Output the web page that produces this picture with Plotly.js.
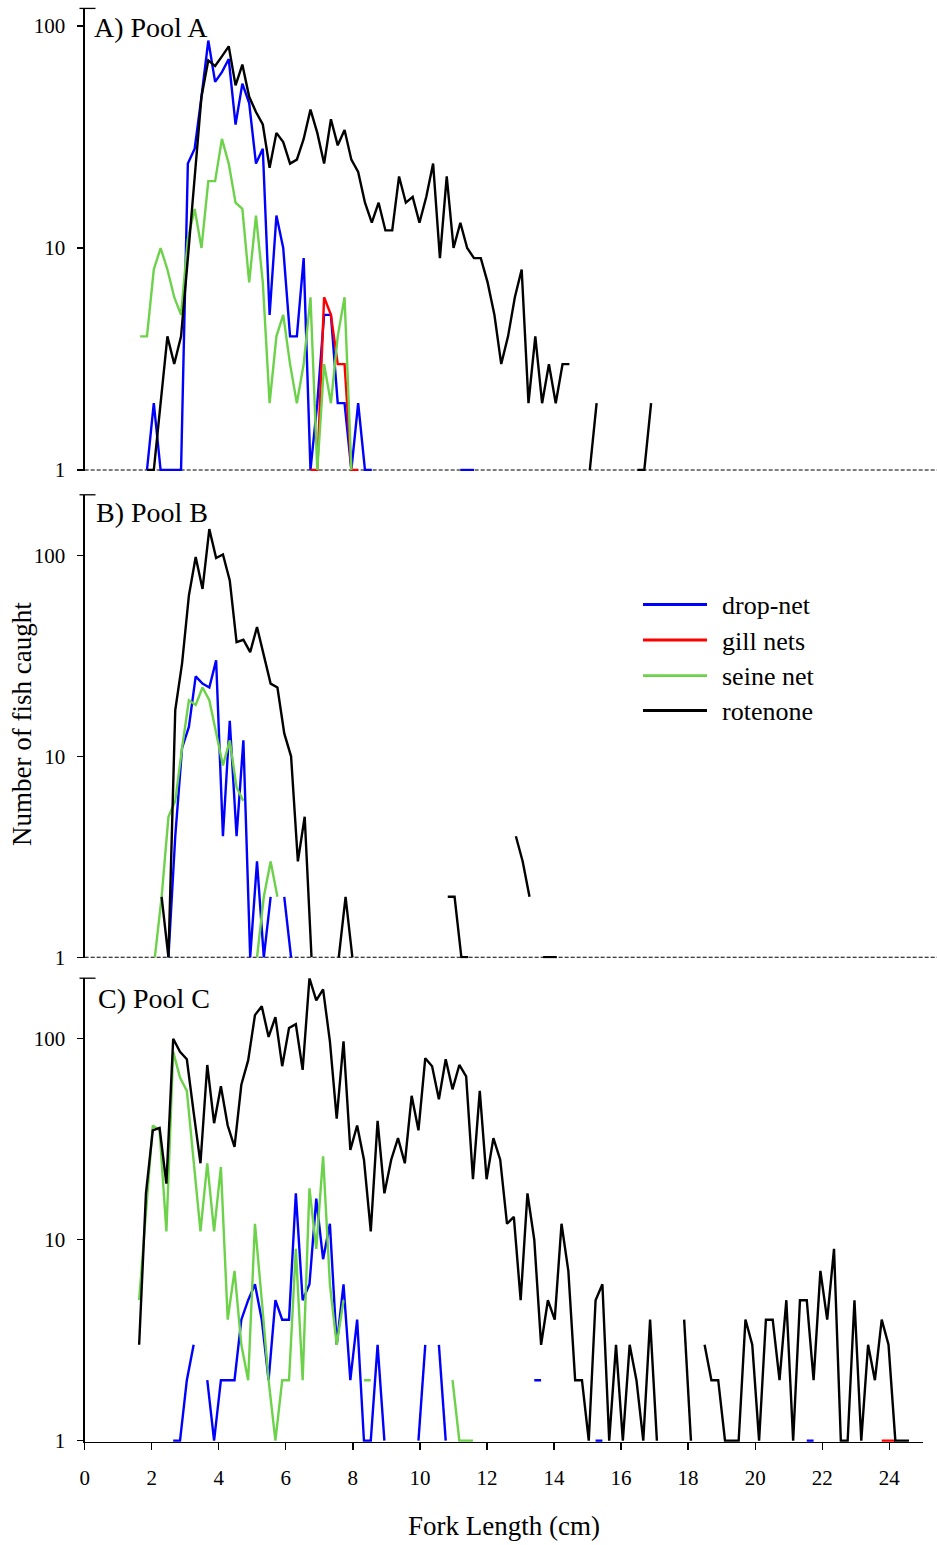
<!DOCTYPE html>
<html>
<head>
<meta charset="utf-8">
<script src="https://cdn.plot.ly/plotly-3.0.1.min.js"></script>
<style>
html,body{margin:0;padding:0;background:#ffffff;}
#chart{width:937px;height:1545px;}
</style>
</head>
<body>
<div id="chart"></div>
<script>
// ---------------- DATA ----------------
// Fork-length classes: bin index * BIN_WIDTH_CM gives the class position on the x axis (cm)
const BIN_WIDTH_CM = 0.2032;

const seriesNames  = ['drop-net', 'gill nets', 'seine net', 'rotenone'];
const seriesColors = ['#0000ff', '#ff0000', '#6cd24a', '#000000'];
const panelLabels  = ['A) Pool A', 'B) Pool B', 'C) Pool C'];
const xTickValues  = [0, 2, 4, 6, 8, 10, 12, 14, 16, 18, 20, 22, 24];
const yTickValues  = [1, 10, 100];
const yTickLabels  = ['1', '10', '100'];
const xTitle = 'Fork Length (cm)';
const yTitle = 'Number of fish caught';

// Pool A  (null = no fish caught in that class)
const poolA_binShift = 0.15;
const poolA_dropNet_firstBin = 9;
const poolA_dropNet = [1,2,1,1,1,1,24,28,48,86,56,62,
  71,36,55,45,24,28,5,14,10,4,
  4,9,1,2,5,5,2,2,1,2,
  1,1,null,null,null,null,null,null,null,null,
  null,null,null,null,1,1,1];
const poolA_gillNets_firstBin = 33;
const poolA_gillNets = [1,1,6,5,3,3,1,1];
const poolA_seineNet_firstBin = 8;
const poolA_seineNet = [4,4,8,10,8,6,5,11,15,10,20,20,31,
  24,16,15,7,14,7,2,4,5,3,
  2,3,6,1,3,2,4,6,1];
const poolA_rotenone_firstBin = 9;
const poolA_rotenone = [1,1,2,4,3,4,9,20,48,70,66,73,
  81,54,67,48,41,36,23,33,30,24,
  25,31,42,33,24,38,29,34,25,22,
  16,13,16,12,12,21,16,17,13,17,
  24,9,21,10,13,10,9,9,7,5,
  3,4,6,8,2,4,2,3,2,3,
  3,null,null,1,2,null,null,null,null,null,
  1,1,2];

// Pool B
const poolB_binShift = 0.3;
const poolB_dropNet_firstBin = 12;
const poolB_dropNet = [1,4,11,14,25,23,22,30,4,
  15,4,12,1,3,1,2,null,2,1];
const poolB_gillNets_firstBin = 0;
const poolB_gillNets = [];
const poolB_seineNet_firstBin = 10;
const poolB_seineNet = [1,2,5,6,11,19,18,22,19,13,9,
  12,7,6,null,1,2,3,2];
const poolB_rotenone_firstBin = 11;
const poolB_rotenone = [2,1,17,29,63,98,68,135,97,101,
  75,37,38,33,44,32,23,22,13,10,
  3,5,1,null,null,null,1,2,1,null,
  null,null,null,null,null,null,null,null,null,null,
  null,null,2,2,1,1,null,null,null,null,
  null,null,4,3,2,null,1,1,1];

// Pool C
const poolC_binShift = 0;
const poolC_dropNet_firstBin = 13;
const poolC_dropNet = [1,1,2,3,null,2,1,2,
  2,2,4,5,6,4,2,5,4,4,
  17,5,6,16,8,12,3,6,2,4,
  1,1,3,1,null,null,null,null,1,3,
  null,3,1,null,null,null,null,null,null,null,
  null,null,null,null,null,2,2,null,null,null,
  null,null,null,null,1,1,null,null,null,null,
  null,null,null,null,null,null,null,null,null,null,
  null,null,null,null,null,null,null,null,null,null,
  null,null,null,null,null,1,1];
const poolC_gillNets_firstBin = 117;
const poolC_gillNets = [1,1,1];
const poolC_seineNet_firstBin = 8;
const poolC_seineNet = [5,14,37,
  35,11,86,64,55,24,11,24,11,23,
  4,7,3,2,12,5,2,1,2,2,
  9,2,18,9,26,6,3,5,null,null,
  2,2,null,null,null,null,null,null,null,null,
  null,null,null,2,1,1,1];
const poolC_rotenone_firstBin = 8;
const poolC_rotenone = [3,17,35,
  36,19,100,86,79,43,24,74,38,58,
  37,29,59,78,131,145,102,128,73,113,
  118,70,200,155,176,97,40,97,28,37,
  25,11,39,17,25,32,24,52,35,80,
  73,50,79,56,74,65,20,55,20,32,
  25,12,13,5,17,10,3,5,4,12,
  7,2,2,1,5,6,1,3,1,3,
  2,1,4,1,null,null,null,4,1,null,
  3,2,2,1,1,1,4,3,1,4,
  4,2,5,1,5,5,2,7,4,9,
  1,1,5,1,3,2,4,3,1,1,1];

// ---------------- LAYOUT CONSTANTS ----------------
const W = 937, H = 1545;
const FONT = 'Liberation Serif, Times New Roman, serif';
const X0_PX = 84.65, XEND_PX = 922.8, X_RANGE = [0, 25];
// panel geometry: pixel row of y=1, pixels per decade, top value
const panels = [
  {y1px: 470.0,  decade: 222, top: 120, shift: poolA_binShift,
   series: [[poolA_dropNet_firstBin, poolA_dropNet],[poolA_gillNets_firstBin, poolA_gillNets],[poolA_seineNet_firstBin, poolA_seineNet],[poolA_rotenone_firstBin, poolA_rotenone]],
   label: {x: 92, y: 27}, dashed: true},
  {y1px: 957.3,  decade: 201, top: 200, shift: poolB_binShift,
   series: [[poolB_dropNet_firstBin, poolB_dropNet],[poolB_gillNets_firstBin, poolB_gillNets],[poolB_seineNet_firstBin, poolB_seineNet],[poolB_rotenone_firstBin, poolB_rotenone]],
   label: {x: 94, y: 512.5}, dashed: true},
  {y1px: 1440.7, decade: 201, top: 200, shift: poolC_binShift,
   series: [[poolC_dropNet_firstBin, poolC_dropNet],[poolC_gillNets_firstBin, poolC_gillNets],[poolC_seineNet_firstBin, poolC_seineNet],[poolC_rotenone_firstBin, poolC_rotenone]],
   label: {x: 95.5, y: 998.5}, dashed: false}
];
const RANGE_LO = -0.005; // tiny margin so lines at 1 are not clipped

function px2x(p){ return p / W; }
function px2y(p){ return 1 - p / H; }

const traces = [];
const layout = {
  width: W, height: H, autosize: false,
  margin: {l: 0, r: 0, t: 0, b: 0, pad: 0},
  paper_bgcolor: '#ffffff', plot_bgcolor: 'rgba(0,0,0,0)',
  showlegend: false,
  font: {family: FONT, color: '#000000'},
  shapes: [], annotations: [],
  xaxis: {
    domain: [px2x(X0_PX), px2x(XEND_PX)], range: X_RANGE, anchor: 'y3',
    showline: true, linecolor: '#000', linewidth: 1.3,
    ticks: 'outside', ticklen: 7, tickwidth: 1.3, tickcolor: '#000',
    tickmode: 'array', tickvals: xTickValues, ticktext: xTickValues.map(String),
    tickfont: {family: FONT, size: 21, color: '#000'},
    ticklabelstandoff: 10,
    showgrid: false, zeroline: false, automargin: false, fixedrange: true
  }
};

panels.forEach((p, i) => {
  const axName = i === 0 ? 'yaxis' : 'yaxis' + (i + 1);
  const axRef = i === 0 ? 'y' : 'y' + (i + 1);
  const hi = Math.log10(p.top);
  const bottomPx = p.y1px - RANGE_LO * p.decade;
  const topPx = p.y1px - hi * p.decade;
  layout[axName] = {
    type: 'log', range: [RANGE_LO, hi], domain: [px2y(bottomPx), px2y(topPx)], anchor: 'x',
    showline: true, linecolor: '#000', linewidth: 1.3,
    ticks: 'outside', ticklen: 6, tickwidth: 1.3, tickcolor: '#000',
    tickmode: 'array', tickvals: yTickValues, ticktext: yTickLabels,
    tickfont: {family: FONT, size: 21, color: '#000'},
    ticklabelstandoff: 8,
    showgrid: false, zeroline: false, automargin: false, fixedrange: true
  };
  // data traces
  p.series.forEach((s, k) => {
    const first = s[0], vals = s[1];
    if (!vals.length) return;
    const xs = vals.map((v, j) => (first + j + p.shift) * BIN_WIDTH_CM);
    traces.push({
      type: 'scatter', mode: 'lines', x: xs, y: vals, xaxis: 'x', yaxis: axRef,
      name: seriesNames[k], connectgaps: false,
      line: {color: seriesColors[k], width: 2.4},
      hoverinfo: 'skip', showlegend: false
    });
  });
  // dashed baseline at y = 1 for the upper panels
  if (p.dashed) {
    const f = (0 - RANGE_LO) / (hi - RANGE_LO);
    layout.shapes.push({type: 'line', layer: 'below', xref: 'paper', yref: axRef + ' domain',
      x0: px2x(X0_PX), x1: 1, y0: f, y1: f, line: {color: '#000', width: 1.1, dash: '4px,2px'}});
  }
  // cap at the top of the axis
  layout.shapes.push({type: 'line', xref: 'paper', yref: 'paper',
    x0: px2x(79.5), x1: px2x(95.5), y0: px2y(topPx), y1: px2y(topPx),
    line: {color: '#000', width: 1.3}});
  // panel label
  layout.annotations.push({text: panelLabels[i], xref: 'paper', yref: 'paper',
    x: px2x(p.label.x), y: px2y(p.label.y), xanchor: 'left', yanchor: 'middle',
    showarrow: false, font: {family: FONT, size: 28, color: '#000'}});
});

// axis titles
layout.annotations.push({text: xTitle, xref: 'paper', yref: 'paper', x: px2x(503.5), y: px2y(1526),
  xanchor: 'center', yanchor: 'middle', showarrow: false, font: {family: FONT, size: 27, color: '#000'}});
layout.annotations.push({text: yTitle, xref: 'paper', yref: 'paper', x: px2x(22), y: px2y(724),
  xanchor: 'center', yanchor: 'middle', textangle: -90, showarrow: false,
  font: {family: FONT, size: 27, color: '#000'}});

// legend (drawn in panel B)
const legendRowsPx = [604.5, 640, 675.7, 710.5];
seriesNames.forEach((name, k) => {
  layout.shapes.push({type: 'line', xref: 'paper', yref: 'paper',
    x0: px2x(643), x1: px2x(707), y0: px2y(legendRowsPx[k]), y1: px2y(legendRowsPx[k]),
    line: {color: seriesColors[k], width: 2.8}});
  layout.annotations.push({text: name, xref: 'paper', yref: 'paper',
    x: px2x(720), y: px2y(legendRowsPx[k] + 1), xanchor: 'left', yanchor: 'middle',
    showarrow: false, font: {family: FONT, size: 26, color: '#000'}});
});

Plotly.newPlot('chart', traces, layout, {staticPlot: true, displayModeBar: false});
</script>
</body>
</html>
